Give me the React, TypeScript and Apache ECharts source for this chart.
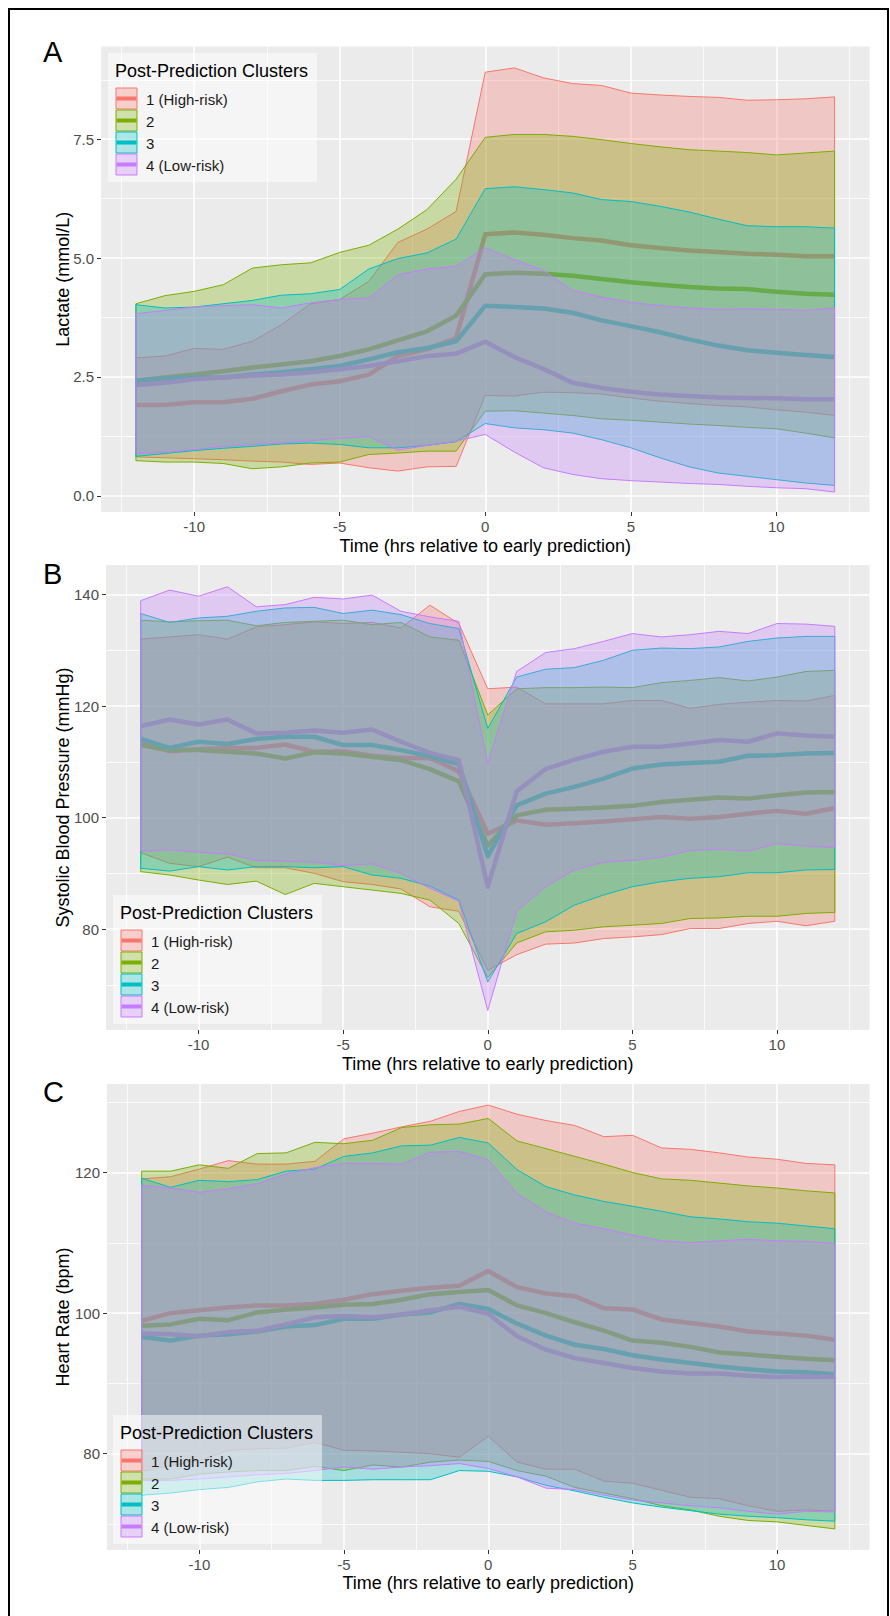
import React, { useEffect, useRef } from 'react';
import * as echarts from 'echarts';

const FONT = '"Liberation Sans", Arial, sans-serif';

const hours = [-12, -11, -10, -9, -8, -7, -6, -5, -4, -3, -2, -1, 0, 1, 2, 3, 4, 5, 6, 7, 8, 9, 10, 11, 12];
const clusterNames = ['1 (High-risk)', '2', '3', '4 (Low-risk)'];
const colors = ['#F8766D', '#7CAE00', '#00BFC4', '#C77CFF'];
const fills = ['rgba(248,118,109,0.3)', 'rgba(124,174,0,0.3)', 'rgba(0,191,196,0.3)', 'rgba(199,124,255,0.3)'];

const xMajor = [-10, -5, 0, 5, 10];
const xMinor = [-12.5, -7.5, -2.5, 2.5, 7.5, 12.5];
const lactateTicks = [0, 2.5, 5, 7.5];
const lactateMinor = [1.25, 3.75, 6.25, 8.75];
const sbpTicks = [80, 100, 120, 140];
const sbpMinor = [70, 90, 110, 130];
const hrTicks = [80, 100, 120];
const hrMinor = [70, 90, 110, 130];

// Panel A: Lactate
const lacMean1 = [1.91, 1.91, 1.97, 1.97, 2.04, 2.2, 2.34, 2.41, 2.55, 2.94, 3.08, 3.32, 5.5, 5.54, 5.49, 5.42, 5.37, 5.27, 5.21, 5.16, 5.13, 5.09, 5.07, 5.04, 5.04];
const lacLo1 = [0.82, 0.8, 0.78, 0.76, 0.73, 0.71, 0.66, 0.69, 0.59, 0.52, 0.61, 0.62, 2.11, 2.1, 2.18, 2.17, 2.14, 2.06, 1.99, 1.94, 1.9, 1.87, 1.81, 1.76, 1.69];
const lacHi1 = [2.9, 2.94, 3.1, 3.08, 3.25, 3.6, 4.04, 4.13, 4.51, 5.33, 5.61, 5.98, 8.91, 9.0, 8.79, 8.67, 8.63, 8.47, 8.43, 8.4, 8.38, 8.32, 8.33, 8.35, 8.39];
const lacMean2 = [2.42, 2.49, 2.55, 2.62, 2.7, 2.76, 2.83, 2.94, 3.08, 3.27, 3.46, 3.79, 4.66, 4.69, 4.67, 4.63, 4.56, 4.49, 4.44, 4.39, 4.36, 4.35, 4.29, 4.25, 4.23];
const lacLo2 = [0.74, 0.71, 0.71, 0.68, 0.57, 0.61, 0.69, 0.71, 0.87, 0.9, 0.94, 0.94, 1.78, 1.79, 1.74, 1.69, 1.62, 1.59, 1.55, 1.51, 1.48, 1.44, 1.41, 1.32, 1.22];
const lacHi2 = [4.04, 4.21, 4.3, 4.44, 4.79, 4.86, 4.9, 5.12, 5.27, 5.61, 6.02, 6.66, 7.54, 7.6, 7.6, 7.56, 7.49, 7.41, 7.34, 7.28, 7.25, 7.22, 7.17, 7.21, 7.25];
const lacMean3 = [2.42, 2.47, 2.49, 2.49, 2.55, 2.6, 2.66, 2.73, 2.87, 3.02, 3.11, 3.25, 4.0, 3.97, 3.94, 3.85, 3.69, 3.57, 3.44, 3.29, 3.16, 3.06, 3.01, 2.96, 2.92];
const lacLo3 = [0.83, 0.89, 0.95, 1.0, 1.04, 1.09, 1.11, 1.08, 1.01, 1.01, 1.06, 1.14, 1.52, 1.43, 1.39, 1.32, 1.18, 1.01, 0.8, 0.61, 0.48, 0.41, 0.34, 0.27, 0.22];
const lacHi3 = [4.02, 3.95, 3.97, 4.04, 4.11, 4.22, 4.25, 4.34, 4.77, 4.99, 5.11, 5.4, 6.46, 6.5, 6.44, 6.37, 6.23, 6.19, 6.09, 5.97, 5.82, 5.68, 5.66, 5.66, 5.63];
const lacMean4 = [2.33, 2.38, 2.45, 2.49, 2.53, 2.55, 2.6, 2.66, 2.73, 2.83, 2.94, 2.99, 3.24, 2.92, 2.67, 2.38, 2.27, 2.19, 2.13, 2.1, 2.07, 2.06, 2.05, 2.03, 2.03];
const lacLo4 = [0.89, 0.92, 0.97, 1.04, 1.08, 1.11, 1.16, 1.21, 1.25, 0.96, 1.06, 1.15, 1.29, 0.92, 0.59, 0.45, 0.36, 0.32, 0.29, 0.26, 0.24, 0.2, 0.17, 0.15, 0.08];
const lacHi4 = [3.83, 3.9, 3.97, 4.0, 4.02, 3.95, 4.06, 4.13, 4.16, 4.65, 4.77, 4.83, 5.22, 4.97, 4.74, 4.32, 4.18, 4.07, 4.0, 3.95, 3.92, 3.93, 3.92, 3.9, 3.95];

// Panel B: Systolic blood pressure
const sbpMean1 = [113.3, 111.9, 112.3, 112.5, 112.5, 113.1, 111.8, 111.9, 111.1, 110.7, 110.7, 108.3, 97.1, 99.5, 98.7, 99.0, 99.3, 99.7, 100.1, 99.8, 100.1, 100.7, 101.2, 100.7, 101.7];
const sbpLo1 = [93.7, 91.8, 91.2, 92.9, 91.0, 91.0, 90.0, 88.5, 88.0, 87.2, 84.0, 83.2, 72.6, 75.4, 77.3, 77.5, 78.3, 78.6, 79.0, 80.1, 80.1, 81.0, 81.4, 80.6, 81.4];
const sbpHi1 = [132.0, 132.4, 132.8, 132.0, 134.2, 134.6, 135.1, 134.8, 135.0, 134.0, 138.1, 134.8, 123.1, 123.4, 120.4, 120.4, 120.4, 121.0, 121.0, 119.6, 120.3, 120.7, 121.0, 120.9, 121.9];
const sbpMean2 = [113.0, 112.1, 112.1, 111.8, 111.5, 110.6, 111.7, 111.5, 110.9, 110.3, 108.7, 106.5, 95.0, 100.4, 101.4, 101.6, 101.8, 102.1, 102.8, 103.2, 103.6, 103.4, 104.0, 104.5, 104.6];
const sbpLo2 = [90.3, 89.7, 88.8, 88.0, 88.6, 86.2, 88.2, 87.6, 87.0, 86.4, 85.2, 81.0, 71.3, 77.5, 79.5, 79.8, 80.4, 80.7, 81.0, 81.9, 82.0, 82.3, 82.3, 82.8, 83.0];
const sbpHi2 = [135.4, 135.1, 135.3, 135.4, 134.4, 135.0, 135.2, 135.4, 134.6, 135.0, 132.4, 131.8, 118.4, 123.1, 123.3, 123.3, 123.4, 123.3, 124.2, 124.6, 125.1, 124.5, 125.2, 126.2, 126.4];
const sbpMean3 = [114.1, 112.5, 113.6, 113.2, 114.1, 114.5, 114.5, 113.0, 113.0, 112.1, 111.0, 109.6, 93.1, 102.2, 104.3, 105.5, 107.0, 108.8, 109.5, 109.8, 110.0, 111.1, 111.2, 111.5, 111.6];
const sbpLo3 = [90.9, 90.4, 91.2, 90.6, 91.2, 91.2, 91.0, 91.2, 89.7, 89.1, 87.7, 85.2, 70.5, 79.2, 81.3, 84.3, 86.1, 87.6, 88.5, 89.1, 89.4, 90.1, 90.1, 90.6, 90.7];
const sbpHi3 = [136.6, 135.0, 135.8, 136.1, 137.0, 137.6, 137.7, 136.6, 137.2, 136.4, 134.8, 133.9, 116.0, 125.2, 126.6, 126.9, 128.2, 130.0, 130.4, 130.3, 130.6, 131.6, 132.2, 132.5, 132.5];
const sbpMean4 = [116.4, 117.6, 116.7, 117.6, 115.1, 115.2, 115.6, 115.2, 115.8, 113.6, 111.6, 110.3, 87.6, 104.7, 108.7, 110.4, 111.8, 112.7, 112.7, 113.3, 113.9, 113.6, 115.1, 114.7, 114.5];
const sbpLo4 = [94.0, 94.2, 93.8, 93.5, 92.3, 92.2, 92.0, 91.4, 91.7, 90.0, 87.3, 85.0, 65.4, 83.2, 87.6, 90.6, 92.0, 92.3, 92.9, 94.1, 94.3, 94.0, 95.3, 94.9, 94.6];
const sbpHi4 = [138.9, 140.8, 139.7, 141.4, 137.8, 138.2, 139.5, 139.2, 139.9, 137.0, 136.0, 135.2, 109.7, 126.2, 129.6, 130.3, 131.6, 133.0, 132.4, 132.8, 133.4, 133.0, 134.8, 134.7, 134.3];

// Panel C: Heart rate
const hrMean1 = [98.9, 100.0, 100.4, 100.8, 101.1, 101.1, 101.3, 101.9, 102.7, 103.2, 103.6, 103.9, 106.0, 103.7, 102.8, 102.4, 100.7, 100.5, 99.1, 98.6, 98.1, 97.4, 97.1, 96.8, 96.2];
const hrLo1 = [77.5, 78.3, 79.0, 80.5, 80.7, 80.8, 81.6, 80.5, 80.4, 80.2, 80.0, 79.5, 82.5, 78.8, 77.8, 77.8, 76.1, 75.8, 74.8, 73.8, 73.6, 72.6, 71.8, 72.0, 71.8];
const hrHi1 = [119.1, 119.4, 120.5, 121.7, 121.2, 121.2, 121.6, 124.8, 125.6, 126.5, 127.3, 128.7, 129.6, 128.3, 127.4, 126.7, 125.1, 125.3, 123.5, 123.3, 122.8, 122.2, 121.9, 121.3, 121.1];
const hrMean2 = [98.2, 98.4, 99.2, 99.0, 100.1, 100.5, 100.8, 101.2, 101.3, 101.9, 102.7, 103.0, 103.3, 101.1, 100.0, 98.7, 97.5, 96.1, 95.8, 95.2, 94.4, 94.1, 93.8, 93.5, 93.3];
const hrLo2 = [76.4, 76.4, 77.1, 77.4, 77.6, 77.6, 78.2, 77.6, 78.4, 78.1, 78.8, 79.1, 78.9, 77.6, 76.8, 75.2, 74.4, 73.6, 72.6, 72.0, 71.1, 70.5, 70.3, 69.8, 69.3];
const hrHi2 = [120.2, 120.2, 121.1, 120.6, 122.7, 122.8, 124.3, 124.1, 124.6, 126.4, 126.8, 126.9, 127.7, 124.5, 123.4, 122.3, 121.2, 120.0, 119.1, 118.9, 118.5, 118.1, 117.8, 117.4, 117.1];
const hrMean3 = [96.6, 96.1, 96.8, 97.0, 97.4, 98.1, 98.3, 99.2, 99.2, 99.8, 100.1, 101.3, 100.6, 98.5, 96.8, 95.5, 94.9, 94.0, 93.4, 92.9, 92.4, 92.0, 91.7, 91.6, 91.3];
const hrLo3 = [74.1, 74.4, 74.9, 75.2, 76.0, 76.4, 76.2, 76.2, 76.3, 76.3, 76.3, 77.6, 77.5, 76.7, 75.5, 74.7, 73.8, 73.0, 72.4, 71.9, 71.4, 71.1, 70.9, 70.6, 70.4];
const hrHi3 = [119.2, 117.9, 118.9, 118.7, 119.0, 120.2, 120.5, 122.3, 122.8, 123.8, 123.9, 125.0, 124.2, 120.4, 118.0, 116.8, 115.9, 115.2, 114.5, 113.7, 113.4, 113.0, 112.8, 112.4, 112.0];
const hrMean4 = [97.1, 97.0, 96.7, 97.3, 97.5, 98.4, 99.4, 99.6, 99.4, 99.8, 100.4, 100.9, 99.9, 96.7, 94.8, 93.6, 92.9, 92.2, 91.7, 91.4, 91.4, 91.1, 90.9, 91.0, 90.9];
const hrLo4 = [76.2, 76.2, 76.4, 76.7, 77.0, 77.2, 77.6, 78.1, 77.8, 78.1, 78.3, 78.6, 77.9, 76.7, 75.1, 74.9, 74.1, 73.4, 73.0, 72.6, 72.3, 71.8, 71.4, 71.8, 71.7];
const hrHi4 = [118.2, 117.8, 117.2, 117.7, 118.4, 119.8, 120.7, 121.3, 121.3, 121.2, 122.9, 123.0, 121.8, 117.0, 114.4, 112.8, 112.0, 111.1, 110.3, 110.0, 110.3, 110.5, 110.3, 110.2, 109.9];

const xTitle = 'Time (hrs relative to early prediction)';
const legendTitle = 'Post-Prediction Clusters';

const panels = [
  {
    letter: 'A', letterY: 52,
    grid: { left: 101, top: 46.5, width: 768.5, height: 465.5 },
    yMin: -0.34, yMax: 9.45, yTicks: lactateTicks, yMinor: lactateMinor,
    yName: 'Lactate (mmol/L)', yGap: 29.5, xGap: 25, fmt: (v: number) => v.toFixed(1),
    means: [lacMean1, lacMean2, lacMean3, lacMean4],
    los: [lacLo1, lacLo2, lacLo3, lacLo4],
    his: [lacHi1, lacHi2, lacHi3, lacHi4],
    legend: { x: 108, y: 53 },
  },
  {
    letter: 'B', letterY: 574,
    grid: { left: 106, top: 565, width: 763.5, height: 465 },
    yMin: 61.9, yMax: 145.3, yTicks: sbpTicks, yMinor: sbpMinor,
    yName: 'Systolic Blood Pressure (mmHg)', yGap: 34, xGap: 25, fmt: (v: number) => String(v),
    means: [sbpMean1, sbpMean2, sbpMean3, sbpMean4],
    los: [sbpLo1, sbpLo2, sbpLo3, sbpLo4],
    his: [sbpHi1, sbpHi2, sbpHi3, sbpHi4],
    legend: { x: 113, y: 895 },
  },
  {
    letter: 'C', letterY: 1092,
    grid: { left: 107, top: 1084, width: 762.5, height: 466 },
    yMin: 66.3, yMax: 132.6, yTicks: hrTicks, yMinor: hrMinor,
    yName: 'Heart Rate (bpm)', yGap: 35, xGap: 24, fmt: (v: number) => String(v),
    means: [hrMean1, hrMean2, hrMean3, hrMean4],
    los: [hrLo1, hrLo2, hrLo3, hrLo4],
    his: [hrHi1, hrHi2, hrHi3, hrHi4],
    legend: { x: 113, y: 1415 },
  },
];

function buildOption() {
  const grids: any[] = [];
  const xAxes: any[] = [];
  const yAxes: any[] = [];
  const series: any[] = [];
  const graphics: any[] = [];

  panels.forEach((p, pi) => {
    grids.push({ ...p.grid, show: true, backgroundColor: '#EBEBEB', borderWidth: 0 });
    const ai = pi * 2;
    xAxes.push({
      type: 'value', gridIndex: pi, position: 'bottom', min: -13.2, max: 13.2,
      name: xTitle, nameLocation: 'middle', nameGap: p.xGap, nameMoveOverlap: false,
      nameTextStyle: { fontSize: 18, color: '#000', fontFamily: FONT },
      axisLine: { show: false, onZero: false },
      axisTick: { show: true, length: 4, customValues: xMajor, lineStyle: { color: '#333333', width: 1 } },
      axisLabel: { customValues: xMajor, margin: 7, color: '#4D4D4D', fontSize: 15, fontFamily: FONT },
      splitLine: { show: true, lineStyle: { color: '#FFFFFF', width: 1.6 } },
      axisPointer: { show: false },
    });
    xAxes.push({
      type: 'value', gridIndex: pi, position: 'bottom', min: -13.2, max: 13.2,
      axisLine: { show: false, onZero: false },
      axisTick: { show: false, customValues: xMinor },
      axisLabel: { show: false, customValues: xMinor },
      splitLine: { show: true, lineStyle: { color: '#FFFFFF', width: 0.8 } },
      axisPointer: { show: false },
    });
    yAxes.push({
      type: 'value', gridIndex: pi, position: 'left', min: p.yMin, max: p.yMax,
      name: p.yName, nameLocation: 'middle', nameGap: p.yGap, nameMoveOverlap: false,
      nameTextStyle: { fontSize: 18, color: '#000', fontFamily: FONT },
      axisLine: { show: false, onZero: false },
      axisTick: { show: true, length: 4, customValues: p.yTicks, lineStyle: { color: '#333333', width: 1 } },
      axisLabel: { customValues: p.yTicks, margin: 7, color: '#4D4D4D', fontSize: 15, fontFamily: FONT, formatter: p.fmt },
      splitLine: { show: true, lineStyle: { color: '#FFFFFF', width: 1.6 } },
      axisPointer: { show: false },
    });
    yAxes.push({
      type: 'value', gridIndex: pi, position: 'left', min: p.yMin, max: p.yMax,
      axisLine: { show: false, onZero: false },
      axisTick: { show: false, customValues: p.yMinor },
      axisLabel: { show: false, customValues: p.yMinor },
      splitLine: { show: true, lineStyle: { color: '#FFFFFF', width: 0.8 } },
      axisPointer: { show: false },
    });

    // mean lines first (underneath ribbons)
    p.means.forEach((m, ci) => {
      series.push({
        type: 'line', xAxisIndex: ai, yAxisIndex: ai, silent: true, z: 1,
        symbol: 'none', showSymbol: false,
        data: hours.map((h, i) => [h, m[i]]),
        lineStyle: { color: colors[ci], width: 4.5, join: 'round' },
        itemStyle: { color: colors[ci] },
      });
    });
    // ribbons, layered in cluster order
    p.los.forEach((lo, ci) => {
      const hi = p.his[ci];
      series.push({
        type: 'custom', xAxisIndex: ai, yAxisIndex: ai, silent: true, z: 3 + ci,
        data: hours.map((h, i) => [h, lo[i], hi[i]]),
        encode: { x: 0, y: [1, 2] },
        renderItem: (params: any, api: any) => {
          if (params.dataIndex !== 0) return null;
          const pts: number[][] = [];
          for (let i = 0; i < hours.length; i++) pts.push(api.coord([hours[i], hi[i]]));
          for (let i = hours.length - 1; i >= 0; i--) pts.push(api.coord([hours[i], lo[i]]));
          return {
            type: 'polygon',
            shape: { points: pts },
            style: { fill: fills[ci], stroke: colors[ci], lineWidth: 1, lineJoin: 'round' },
          };
        },
      });
    });

    // panel letter
    graphics.push({
      type: 'text', z: 100,
      x: 43, y: p.letterY,
      style: { text: p.letter, fontSize: 29, fontFamily: FONT, fill: '#000', verticalAlign: 'middle', align: 'left' },
    });

    // legend
    const lx = p.legend.x;
    const ly = p.legend.y;
    graphics.push({ type: 'rect', z: 100, shape: { x: lx, y: ly, width: 209, height: 129 }, style: { fill: 'rgba(255,255,255,0.5)' } });
    graphics.push({ type: 'text', z: 101, x: lx + 7, y: ly + 18, style: { text: legendTitle, fontSize: 18, fontFamily: FONT, fill: '#000', verticalAlign: 'middle', align: 'left' } });
    clusterNames.forEach((name, ci) => {
      const ky = ly + 35 + ci * 22;
      graphics.push({ type: 'rect', z: 101, shape: { x: lx + 8, y: ky, width: 21, height: 21 }, style: { fill: fills[ci], stroke: colors[ci], lineWidth: 1 } });
      graphics.push({ type: 'line', z: 102, shape: { x1: lx + 8.5, y1: ky + 10.5, x2: lx + 28.5, y2: ky + 10.5 }, style: { stroke: colors[ci], lineWidth: 4 } });
      graphics.push({ type: 'text', z: 101, x: lx + 38, y: ky + 11, style: { text: name, fontSize: 15, fontFamily: FONT, fill: '#1A1A1A', verticalAlign: 'middle', align: 'left' } });
    });
  });

  // outer frame
  graphics.push({
    type: 'rect', z: 100,
    shape: { x: 9, y: 9, width: 879, height: 1640 },
    style: { fill: 'none', stroke: '#000', lineWidth: 2 },
  });

  return {
    animation: false,
    backgroundColor: '#FFFFFF',
    tooltip: { show: false },
    grid: grids,
    xAxis: xAxes,
    yAxis: yAxes,
    series,
    graphic: graphics,
  };
}

export default function App() {
  const ref = useRef<HTMLDivElement>(null);
  useEffect(() => {
    document.body.style.margin = '0';
    if (!ref.current) return;
    const chart = echarts.init(ref.current, undefined, { renderer: 'svg' });
    chart.setOption(buildOption() as any);
    return () => chart.dispose();
  }, []);
  return <div ref={ref} style={{ width: 890, height: 1616 }} />;
}
